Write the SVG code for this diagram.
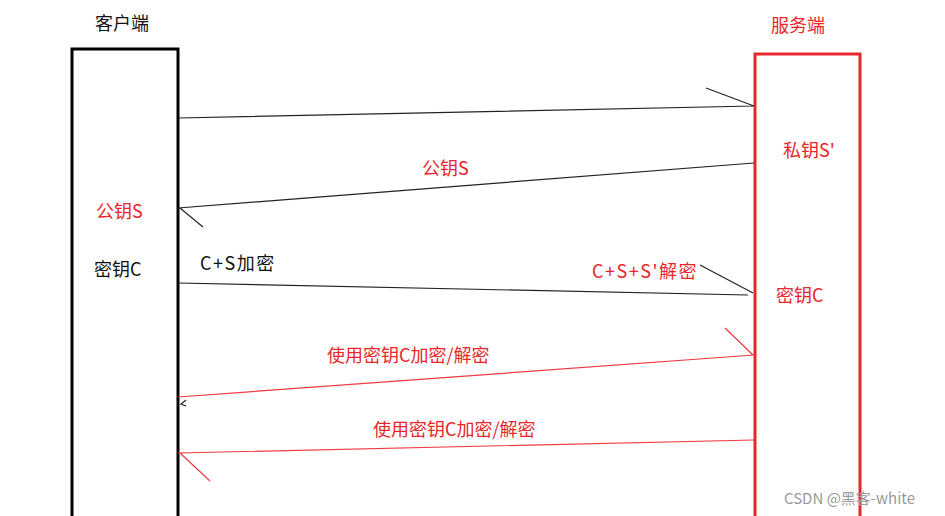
<svg xmlns="http://www.w3.org/2000/svg" width="945" height="516" viewBox="0 0 945 516">
<style>
text{font-family:"Noto Sans CJK SC","Liberation Sans",sans-serif;font-size:18px}
.r{fill:#e8262b}.k{fill:#111}
.bl{stroke:#222;stroke-width:1.2;fill:none}
.rl{stroke:#ef3a3f;stroke-width:1.2;fill:none}
.sp{letter-spacing:1.5px}
</style>
<rect width="945" height="516" fill="#fff"/>
<g id="client"><rect x="72" y="49" width="106" height="480" fill="none" stroke="#000" stroke-width="3"/>
<text x="95" y="30" class="k">客户端</text>
<text x="96" y="218" class="r">公钥S</text>
<text x="94" y="276" class="k">密钥C</text></g>
<g id="server"><rect x="755" y="54" width="105" height="480" fill="none" stroke="#e8262b" stroke-width="3"/>
<text x="771" y="32" class="r">服务端</text>
<text x="783" y="157" class="r">私钥S'</text>
<text x="776" y="302" class="r">密钥C</text></g>
<g id="connectors">
<path class="bl" d="M178 118L754 106M706 88L754 106"/>
<path class="bl" d="M754 163L178 208M180 208L203 227"/>
<path class="bl" d="M178 283L748 295M700 265L753 293"/>
<path class="rl" d="M754 355L178 397M725 328L753 355"/>
<path class="bl" d="M186 400L181 404L186 406"/>
<path class="rl" d="M754 440L178 453M180 453L210 481"/>
</g>
<text x="422" y="175" class="r">公钥S</text>
<text x="200" y="270" class="k sp">C+S加密</text>
<text x="592" y="278" class="r sp">C+S+S'解密</text>
<text x="327" y="362" class="r">使用密钥C加密/解密</text>
<text x="373" y="436" class="r">使用密钥C加密/解密</text>
<text x="784" y="504" fill="#999" style="font-size:15px">CSDN @黑客-white</text>
</svg>
